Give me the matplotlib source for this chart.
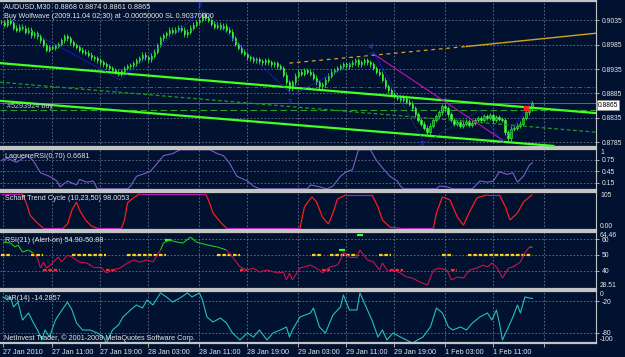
import numpy as np
import matplotlib
matplotlib.use("Agg")
import matplotlib.pyplot as plt
import matplotlib.transforms as mtrans
from matplotlib.collections import LineCollection

# ---- data (AUDUSD M30) ----
closes = [
    0.9031, 0.9025, 0.9035, 0.9029, 0.9019, 0.9015, 0.9021, 0.9019, 0.9011, 0.9015,
    0.9004, 0.9008, 0.9002, 0.8994, 0.8984, 0.8974, 0.8980, 0.8978, 0.8982, 0.8986,
    0.8994, 0.9002, 0.8998, 0.8990, 0.8984, 0.8980, 0.8974, 0.8970, 0.8968, 0.8964,
    0.8959, 0.8957, 0.8953, 0.8949, 0.8945, 0.8941, 0.8937, 0.8933, 0.8929, 0.8925,
    0.8931, 0.8937, 0.8941, 0.8943, 0.8947, 0.8953, 0.8957, 0.8964, 0.8959, 0.8955,
    0.8962, 0.8970, 0.8984, 0.8998, 0.9004, 0.9008, 0.9015, 0.9011, 0.9015, 0.9019,
    0.9015, 0.9006, 0.9011, 0.9019, 0.9025, 0.9031, 0.9035, 0.9047, 0.9039, 0.9035,
    0.9027, 0.9021, 0.9025, 0.9019, 0.9023, 0.9015, 0.9011, 0.8998, 0.8986, 0.8978,
    0.8970, 0.8966, 0.8959, 0.8957, 0.8953, 0.8955, 0.8951, 0.8949, 0.8953, 0.8949,
    0.8945, 0.8947, 0.8941, 0.8937, 0.8923, 0.8908, 0.8896, 0.8908, 0.8921, 0.8929,
    0.8925, 0.8933, 0.8929, 0.8925, 0.8917, 0.8908, 0.8900, 0.8904, 0.8913, 0.8921,
    0.8929, 0.8933, 0.8937, 0.8941, 0.8945, 0.8941, 0.8945, 0.8949, 0.8953, 0.8945,
    0.8949, 0.8953, 0.8949, 0.8945, 0.8937, 0.8929, 0.8925, 0.8913, 0.8900, 0.8892,
    0.8884, 0.8880, 0.8876, 0.8872, 0.8876, 0.8868, 0.8864, 0.8855, 0.8843, 0.8831,
    0.8823, 0.8815, 0.8806, 0.8819, 0.8831, 0.8839, 0.8847, 0.8859, 0.8855, 0.8843,
    0.8831, 0.8823, 0.8827, 0.8819, 0.8823, 0.8827, 0.8821, 0.8825, 0.8831, 0.8835,
    0.8831, 0.8839, 0.8835, 0.8841, 0.8831, 0.8837, 0.8833, 0.8831, 0.8806, 0.8794,
    0.8813, 0.8815, 0.8819, 0.8823, 0.8835, 0.8847, 0.8855, 0.8865]

price_ticks = [0.9035, 0.8985, 0.8935, 0.8885, 0.8835, 0.8785]
last_price = 0.8865

# objects drawn on the price chart (bar index, price)
zig_bar = [3, 39.5, 67, 97, 124, 141, 159.5, 167, 177]
zig_px = [0.9035, 0.8913, 0.9055, 0.8882, 0.8970, 0.8784, 0.8851, 0.8784, 0.8872]
wave_lbl = ['1', '2', '3', '4', '5']
wave_bar = [38, 66, 96, 123, 140]
wave_px = [0.8892, 0.9064, 0.8866, 0.8978, 0.8781]
upper_bar = [-0.5, 198.2]
upper_px = [0.8947, 0.8845]
lower_bar = [-0.5, 184]
lower_px = [0.8870, 0.8778]
mid_bar = [-0.5, 198.2]
mid_px = [0.8908, 0.8806]
orange_bar = [96, 155, 198.2]
orange_px = [0.8947, 0.8981, 0.9008]
magenta_bar = [124, 167]
magenta_px = [0.8966, 0.8790]
red_level = 0.8898
order_level = 0.8851

# Laguerre RSI(0.70)
lag_bar = [0, 2, 5, 8.5, 10.5, 13, 16, 18.5, 19.5, 22, 25, 26, 28.5, 30.5, 32, 42, 43, 45,
           49.5, 52, 54, 57, 59.5, 69.5, 72, 74, 76, 78.5, 82, 84, 86, 102, 103, 105, 106,
           108.5, 110.5, 113, 115, 117, 119, 123, 125, 127, 129.5, 132, 133, 134, 145, 146,
           148.5, 150.5, 157, 159.5, 162, 164, 166, 168.5, 170.5, 172, 174, 176, 177]
lag_val = [0.73, 0.78, 0.68, 0.85, 0.73, 0.41, 0.32, 0.20, 0.05, 0.20, 0.10, 0.24, 0.17,
           0.20, 0.0, 0.0, 0.07, 0.32, 0.44, 0.66, 0.85, 0.90, 1.0, 1.0, 0.90, 0.85, 0.66,
           0.32, 0.20, 0.07, 0.0, 0.0, 0.10, 0.07, 0.05, 0.0, 0.07, 0.32, 0.44, 0.49, 1.0,
           1.0, 0.73, 0.54, 0.32, 0.20, 0.07, 0.0, 0.0, 0.07, 0.05, 0.0, 0.0, 0.20, 0.17,
           0.20, 0.44, 0.37, 0.41, 0.17, 0.32, 0.61, 0.67]

# Schaff Trend Cycle (10,23,50)
stc_bar = [0, 7, 8.5, 9.5, 12, 14, 20.5, 22, 23.5, 25, 26, 28, 30, 32, 40, 41, 42, 44, 46,
           68, 69, 70.5, 73, 75, 99.5, 101, 103.5, 105, 107, 109, 110.5, 112, 115, 123.5,
           125.5, 127, 129.5, 133, 144, 145, 147, 149.5, 152, 154, 156, 158.5, 162, 166,
           168, 169.5, 172, 174, 177]
stc_val = [100, 100, 68, 38, 15, 0, 0, 12, 53, 76, 53, 24, 6, 0, 0, 24, 74, 88, 100, 100,
           82, 44, 18, 0, 0, 62, 91, 77, 32, 12, 44, 85, 97, 97, 62, 24, 3, 0, 0, 44, 91,
           82, 32, 9, 47, 88, 97, 97, 62, 24, 44, 76, 98]

# RSI(21)
rsi_bar = [0.5, 3, 4.5, 5.5, 7, 9, 10.5, 12, 13, 14,
           15, 17, 19, 20, 22, 23.5, 26, 28.5, 30.5, 33,
           35, 37, 39.5, 42, 44, 46, 48.5, 50.5, 53, 54,
           56, 58.5, 60.5, 63, 65, 68.5, 72, 75, 77, 79.5,
           82, 84, 86, 88.5, 92, 94, 95, 96, 97, 99.5,
           103, 106, 107, 109.5, 112, 113, 114, 116, 118.5, 119.5,
           122, 124, 126, 127, 128.5, 130.5, 133, 135, 137, 139.5,
           142, 144, 146, 148.5, 150, 152, 154, 156, 158.5, 160.5,
           162, 163.5, 165, 166, 167, 169, 170.5, 173, 174, 176, 177]
rsi_val = [58.1, 57.5, 55.0, 56.3, 51.8, 53.1, 51.2, 48.1, 41.7, 45.5,
           41.7, 44.9, 48.7, 45.5, 49.9, 48.7, 45.5, 44.9, 42.4, 42.4,
           38.6, 40.5, 41.7, 44.9, 46.8, 45.5, 46.8, 45.5, 53.1, 57.5,
           59.4, 58.1, 57.5, 61.3, 58.1, 56.3, 55.0, 53.1, 48.7, 42.4,
           40.5, 41.7, 39.2, 40.5, 38.6, 39.2, 34.2, 38.6, 34.2, 41.7,
           43.6, 40.5, 38.6, 42.4, 43.6, 46.8, 51.8, 48.7, 48.7, 53.1,
           46.8, 45.5, 40.5, 44.9, 40.5, 40.5, 38.6, 36.1, 35.4, 32.9,
           31.0, 40.5, 41.7, 40.5, 34.2, 36.1, 35.4, 40.5, 41.7, 43.6,
           42.4, 44.9, 42.4, 39.2, 35.4, 41.7, 42.4, 45.5, 49.9, 55.0, 54.9]
alert_from = [0, 10, 23.5, 42, 72, 103.5, 109.5, 126, 147, 155.5]
alert_to = [3, 14, 35, 55, 79.5, 107, 118.5, 130, 150, 177]
dn_from = [14, 35, 79.5, 107, 129.5, 150]
dn_to = [19.5, 38.5, 82, 109.5, 134, 152]
up_bar = [55.5, 113.5, 119.5]
up_val = [59.4, 53.1, 62.6]

# Williams %R(14)
wpr_bar = [0.5, 2, 3, 4, 5.5, 7, 9, 10.5, 12, 13.5, 14.5, 16, 18, 19.5, 22, 23.5, 25, 27,
           29.5, 32, 34, 35, 37, 39, 40.5, 43, 45, 47, 48.5, 50.5, 53, 55, 57, 59.5, 62,
           63.5, 66, 67, 68.5, 70.5, 73, 75, 77, 79.5, 82, 84, 86, 88.5, 90.5, 93, 95, 96,
           97, 99.5, 103, 104, 106, 108, 110.5, 113, 114, 116, 118.5, 119.5, 122, 123.5,
           125.5, 127, 128.5, 130.5, 133, 135, 137, 140.5, 143, 145, 147, 149, 150.5, 153,
           155, 157, 159.5, 162, 163.5, 165, 166, 167, 169, 170.5, 172, 173, 174.5, 176, 177]
wpr_val = [-11.5, -17.3, -11.5, -30.8, -21.2, -55.8, -42.3, -59.6, -75.0, -94.2,
           -75.0, -88.5, -55.8, -42.3, -21.2, -36.5, -61.5, -75.0, -75.0, -80.8,
           -88.5, -100, -75.0, -65.4, -50.0, -36.5, -26.9, -32.7, -17.3, -26.9,
           -3.8, -11.5, -21.2, -13.5, -3.8, -11.5, -3.8, -17.3, -50.0, -59.6,
           -51.9, -61.5, -80.8, -94.2, -80.8, -88.5, -75.0, -94.2, -80.8, -75.0,
           -69.2, -88.5, -75.0, -50.0,
           -42.3, -32.7, -69.2, -80.8, -46.2, -30.8, -7.7, -36.5, -36.5, -3.8,
           -36.5, -55.8, -88.5, -75.0, -94.2, -80.8, -88.5, -94.2, -100, -88.5,
           -69.2, -32.7, -42.3, -69.2, -75.0, -69.2, -75.0, -61.5, -50.0, -42.3,
           -55.8, -36.5, -61.5, -94.2, -69.2, -50.0, -26.9, -42.3, -11.5, -13.5, -14.3]

time_bar = [0.5, 17, 33, 49, 66, 82, 99, 115, 131, 148, 164, 181]
time_lbl = ['27 Jan 2010', '27 Jan 11:00', '27 Jan 19:00', '28 Jan 03:00', '28 Jan 11:00',
            '28 Jan 19:00', '29 Jan 03:00', '29 Jan 11:00', '29 Jan 19:00', '1 Feb 03:00',
            '1 Feb 11:00', '']

# ---- figure ----
W, H = 625, 357
BG = '#011230'
SEP = '#c4c4c4'
TXT = '#e6e6e6'
GRID = '#7c8296'
FS = 5.2
plt.rcParams['font.family'] = ['Liberation Sans', 'DejaVu Sans']

fig = plt.figure(figsize=(W / 100, H / 100), dpi=100, facecolor=BG)


def panel(top, bottom):
    ax = fig.add_axes([0, 1 - bottom / H, 596 / W, (bottom - top) / H])
    ax.set_facecolor(BG)
    ax.set_xlim(-0.5, 198.2)
    ax.set_xticks(time_bar)
    ax.tick_params(axis='x', length=0, labelbottom=False)
    ax.yaxis.tick_right()
    ax.tick_params(axis='y', length=2, width=0.6, color=SEP, labelcolor=TXT,
                   labelsize=4.9, pad=2)
    ax.grid(True, color=GRID, ls=(0, (2.5, 2.5)), lw=0.5)
    ax.set_axisbelow(True)
    for s in ['top', 'bottom']:
        ax.spines[s].set_color(SEP)
        ax.spines[s].set_linewidth(1.6)
    ax.spines['right'].set_color(SEP)
    ax.spines['right'].set_linewidth(0.8)
    ax.spines['left'].set_visible(False)
    return ax


def side(ax, v, s, va):
    tr = mtrans.blended_transform_factory(ax.transAxes, ax.transData)
    ax.text(1 + 4 / 596, v, s, transform=tr, color=TXT, fontsize=4.9, va=va, ha='left',
            clip_on=False)


def ftext(x, y, s, color=TXT):
    fig.text(x / W, 1 - y / H, s, color=color, fontsize=FS, va='center', ha='left')


# main price chart
ax = panel(1, 147)
ax.set_ylim(0.87758, 0.90738)
ax.set_yticks(price_ticks)
ax.set_yticklabels(['%.4f' % p for p in price_ticks])

c = np.array(closes)
o = np.concatenate([[c[0]], c[:-1]])
bars = np.arange(len(c))
lo = np.minimum(o, c)
hi = np.maximum(o, c)
ax.vlines(bars, lo - 0.0005, hi + 0.0005, color='#2ee82e', lw=0.6, zorder=3)
bull = c >= o
ax.bar(bars[bull], np.maximum(hi - lo, 0.00008)[bull], bottom=lo[bull], width=0.62,
       color='#178f17', edgecolor='#3cff3c', lw=0.4, zorder=4)
ax.bar(bars[~bull], np.maximum(hi - lo, 0.00008)[~bull], bottom=lo[~bull], width=0.62,
       color='#3cff3c', edgecolor='#3cff3c', lw=0.4, zorder=4)

ax.axhline(red_level, color='#e02020', lw=0.7, ls=(0, (4, 2, 1, 2)), zorder=2)
ax.axhline(order_level, color='#2aa02a', lw=0.8, ls=(0, (6, 3)), zorder=2)
ax.axhline(last_price, color='#8a8a8a', lw=0.5, zorder=2)
ax.plot(upper_bar, upper_px, color='#44ff22', lw=1.6, zorder=5)
ax.plot(lower_bar, lower_px, color='#44ff22', lw=1.6, zorder=5)
ax.plot(mid_bar, mid_px, color='#1f9a1f', lw=0.9, ls=(0, (3, 2)), zorder=5)
ax.plot(orange_bar[:2], orange_px[:2], color='#d8a020', lw=0.9, ls=(0, (3, 3)), zorder=5)
ax.plot(orange_bar[1:], orange_px[1:], color='#d8a020', lw=1.0, zorder=5)
ax.plot(magenta_bar, magenta_px, color='#c010c0', lw=0.8, zorder=5)
ax.plot(zig_bar, zig_px, color='#2a2aff', lw=0.7, ls=(0, (1.2, 1.2)), zorder=6)
for t, b, p in zip(wave_lbl, wave_bar, wave_px):
    ax.text(b, p, t, color='#3a3aff', fontsize=FS, ha='center', va='center', zorder=7)
ax.plot([175], [order_level + 0.0004], 's', color='#ff2020', ms=2.5, zorder=7)

fig.text(598 / W, 1 - 105 / H, '%.4f' % last_price, color='black', fontsize=4.9,
         va='center', ha='left',
         bbox=dict(boxstyle='square,pad=0.15', fc='white', ec='#909090', lw=0.5))

ftext(4, 7, 'AUDUSD,M30  0.8868 0.8874 0.8861 0.8865')
ftext(4, 16, 'Buy Wolfwave (2009.11.04 02:30) at -0.00050000 SL 0.90370000')
ftext(7, 106, '#5293924 buy', color='#c8c8c8')

# Laguerre RSI
ax1 = panel(149, 190)
ax1.set_ylim(-0.03, 1.02)
ax1.set_yticks([0.75, 0.45, 0.15])
ax1.set_yticklabels(['0.75', '0.45', '0.15'])
ax1.plot(lag_bar, lag_val, color='#7a5ec8', lw=0.8)
side(ax1, 1.02, '1', 'top')
ftext(5, 157, 'LaguerreRSI(0.70) 0.6681')

# Schaff Trend Cycle
ax2 = panel(192, 230)
ax2.set_ylim(-5, 105)
ax2.set_yticks([])
sb = np.array(stc_bar)
sv = np.array(stc_val)
segs = np.stack([np.column_stack([sb[:-1], sv[:-1]]), np.column_stack([sb[1:], sv[1:]])], axis=1)
flat = ((sv[:-1] >= 95) & (sv[1:] >= 95)) | ((sv[:-1] <= 5) & (sv[1:] <= 5))
ax2.add_collection(LineCollection(segs, colors=np.where(flat, '#b018b0', '#ff1c1c'), lw=0.9))
side(ax2, 105, '105', 'top')
side(ax2, -5, '0.00', 'bottom')
ftext(5, 199, 'Schaff Trend Cycle (10,23,50) 98.0053')

# RSI
ax3 = panel(232, 289)
ax3.set_ylim(28.51, 64.46)
ax3.set_yticks([60, 50, 40])
ax3.set_yticklabels(['60', '50', '40'])
ax3.hlines([50] * len(alert_from), alert_from, alert_to, color='#ffd21a', lw=1.6,
           ls=(0, (1.6, 0.8)), zorder=3)
ax3.hlines([40.5] * len(dn_from), dn_from, dn_to, color='#ff2a2a', lw=1.6,
           ls=(0, (1.6, 0.8)), zorder=3)
ax3.hlines(up_val, np.array(up_bar) - 1, np.array(up_bar) + 1, color='#33ff33', lw=1.6,
           zorder=3)
rb = np.array(rsi_bar)
rv = np.array(rsi_val)
segs = np.stack([np.column_stack([rb[:-1], rv[:-1]]), np.column_stack([rb[1:], rv[1:]])], axis=1)
above = (rv[:-1] >= 50) & (rv[1:] >= 50)
ax3.add_collection(LineCollection(segs, colors=np.where(above, '#22c422', '#d0104a'),
                                  lw=0.8, zorder=4))
side(ax3, 64.46, '64.46', 'top')
side(ax3, 28.51, '28.51', 'bottom')
ftext(5, 240, 'RSI(21) (Alert-on) 54.90-50.88')

# Williams %R
ax4 = panel(291, 343)
ax4.set_ylim(-100, 0)
ax4.set_yticks([-20, -80])
ax4.set_yticklabels(['-20', '-80'])
ax4.plot(wpr_bar, wpr_val, color='#22c0bc', lw=0.8)
side(ax4, 0, '0', 'top')
side(ax4, -100, '-100', 'bottom')
ax4.set_xticks(time_bar)
ax4.set_xticklabels(time_lbl, ha='left')
ax4.tick_params(axis='x', length=3, width=0.6, color=SEP, labelcolor=TXT, labelsize=FS,
                labelbottom=True, pad=1.5)
ftext(5, 298, '%R(14) -14.2857')
ftext(4, 338, 'NetInvest Trader, \u00a9 2001-2009 MetaQuotes Software Corp.')

fig.savefig('out.png', dpi=100, facecolor=BG)
